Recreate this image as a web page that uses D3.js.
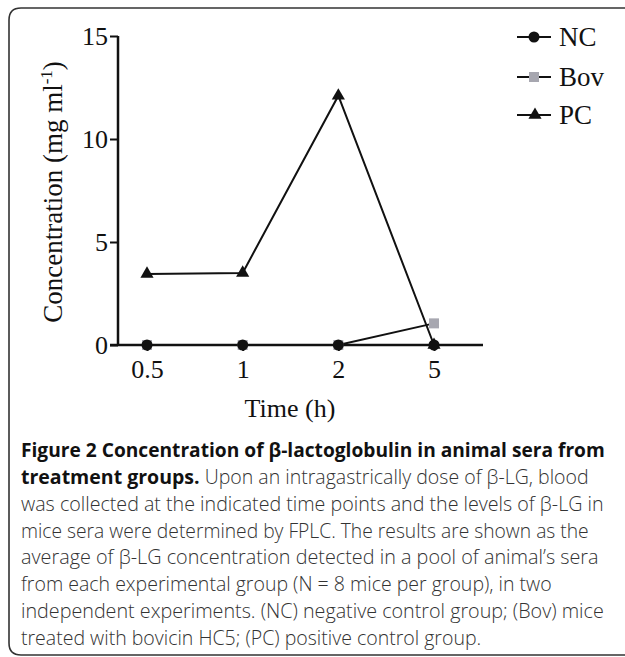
<!DOCTYPE html>
<html><head><meta charset="utf-8">
<script src="https://cdn.jsdelivr.net/npm/d3@7"></script>
<style>html,body{margin:0;padding:0;background:#fff;}</style>
</head><body>
<svg id="c" width="625" height="657"></svg>
<script>
const times = ["0.5","1","2","5"];
const ncValues = [0,0,0,0];
const bovValues = [0,0,0,1.05];
const pcValues = [3.45,3.5,12.1,0];
const yTicks = [0,5,10,15];
const seriesNames = ["NC","Bov","PC"];
const captionLines = [
  [["Figure 2 Concentration of β-lactoglobulin in animal sera from", true]],
  [["treatment groups.", true], [" Upon an intragastrically dose of β-LG, blood", false]],
  [["was collected at the indicated time points and the levels of β-LG in", false]],
  [["mice sera were determined by FPLC. The results are shown as the", false]],
  [["average of β-LG concentration detected in a pool of animal’s sera", false]],
  [["from each experimental group (N = 8 mice per group), in two", false]],
  [["independent experiments. (NC) negative control group; (Bov) mice", false]],
  [["treated with bovicin HC5; (PC) positive control group.", false]]
];
const captionWidths = [584, 568, 583, 568, 578, null, 583, null];

const svg = d3.select("#c");
const serif = "'Liberation Serif','Times New Roman',serif";

svg.append("path")
  .attr("d", "M640,8 L21,8 Q9,8 9,20 L9,643 Q9,655 21,655 L640,655")
  .attr("fill","none").attr("stroke","#333").attr("stroke-width",1.6);

const x = d3.scalePoint().domain(times).range([147,434]);
const y = d3.scaleLinear().domain([0,15]).range([345,36]);
const axisLeft = 118, axisRight = 483;

const g = svg.append("g");
const ya = g.append("g").attr("transform",`translate(${axisLeft},0)`)
  .call(d3.axisLeft(y).tickValues(yTicks).tickSize(8).tickPadding(2));
ya.select(".domain").attr("d",`M0,${y(15)}V${y(0)}`).attr("stroke","#111").attr("stroke-width",2.5);
ya.selectAll(".tick line").attr("stroke","#111").attr("stroke-width",2);
ya.selectAll(".tick text").attr("font-family",serif).attr("font-size",26).attr("fill","#111").attr("dy","0.34em");

const xa = g.append("g").attr("transform",`translate(0,${y(0)})`)
  .call(d3.axisBottom(x).tickSize(6).tickPadding(9));
xa.select(".domain").attr("d",`M${axisLeft-8},0H${axisRight}`).attr("stroke","#111").attr("stroke-width",2.5);
xa.selectAll(".tick line").attr("stroke","#111").attr("stroke-width",2);
xa.selectAll(".tick text").attr("font-family",serif).attr("font-size",26).attr("fill","#111");

svg.append("text").attr("x",290).attr("y",417).attr("text-anchor","middle")
  .attr("font-family",serif).attr("font-size",26).attr("fill","#111").text("Time (h)");
const yt = svg.append("text").attr("transform",`translate(62,192) rotate(-90)`).attr("text-anchor","middle")
  .attr("font-family",serif).attr("font-size",27).attr("fill","#111");
yt.append("tspan").text("Concentration (mg ml");
yt.append("tspan").attr("font-size",17).attr("dy",-10).text("-1");
yt.append("tspan").attr("dy",10).text(")");

const line = d3.line().x((d,i)=>x(times[i])).y(d=>y(d));
g.append("path").datum(bovValues).attr("d",line).attr("fill","none").attr("stroke","#111").attr("stroke-width",2);
g.append("path").datum(ncValues).attr("d",line).attr("fill","none").attr("stroke","#111").attr("stroke-width",2);
g.append("path").datum(pcValues).attr("d",line).attr("fill","none").attr("stroke","#111").attr("stroke-width",2);

const tri = d3.symbol().type(d3.symbolTriangle).size(75);
g.selectAll(".pc").data(pcValues).join("path").attr("class","pc")
  .attr("transform",(d,i)=>`translate(${x(times[i])},${y(d)})`).attr("d",tri).attr("fill","#111");
g.selectAll(".bov").data(bovValues).join("rect").attr("class","bov")
  .attr("x",(d,i)=>x(times[i])-5).attr("y",d=>y(d)-5).attr("width",10).attr("height",10).attr("fill","#a7a7b0");
g.selectAll(".nc").data(ncValues).join("circle").attr("class","nc")
  .attr("cx",(d,i)=>x(times[i])).attr("cy",d=>y(d)).attr("r",5.5).attr("fill","#111");

const legY = [37,77,115];
seriesNames.forEach((name,i)=>{
  const lg = svg.append("g").attr("transform",`translate(0,${legY[i]})`);
  lg.append("line").attr("x1",517).attr("x2",551).attr("y1",0).attr("y2",0).attr("stroke","#111").attr("stroke-width",2);
  if(i===0) lg.append("circle").attr("cx",534).attr("cy",0).attr("r",5.5).attr("fill","#111");
  if(i===1) lg.append("rect").attr("x",529).attr("y",-5).attr("width",10).attr("height",10).attr("fill","#a7a7b0");
  if(i===2) lg.append("path").attr("transform","translate(535,0)").attr("d",tri).attr("fill","#111");
  lg.append("text").attr("x",559).attr("y",9).attr("font-family",serif).attr("font-size",27).attr("fill","#111").text(name);
});

const capY = [457,484,511,538,564,591,618,645];
const baseSize = 20;
const capNodes = captionLines.map((parts,i)=>{
  const t = svg.append("text").attr("x",21).attr("y",capY[i])
    .attr("font-family","'Open Sans',sans-serif").attr("font-size",baseSize);
  parts.forEach(([s,b])=>{
    t.append("tspan").attr("font-weight",b?700:300).attr("fill",b?"#111":"#333").text(s);
  });
  return t;
});
const natural = capNodes.map(t=>t.node().getComputedTextLength());
const factor = d3.mean(captionWidths.map((w,i)=>w?w/natural[i]:null).filter(r=>r));
capNodes.forEach((t,i)=>{
  const w = captionWidths[i] || natural[i]*factor;
  if (natural[i] > w) {
    t.attr("font-size", baseSize*w/natural[i]);
  } else {
    t.attr("textLength",w).attr("lengthAdjust","spacingAndGlyphs");
  }
});
</script>
</body></html>
